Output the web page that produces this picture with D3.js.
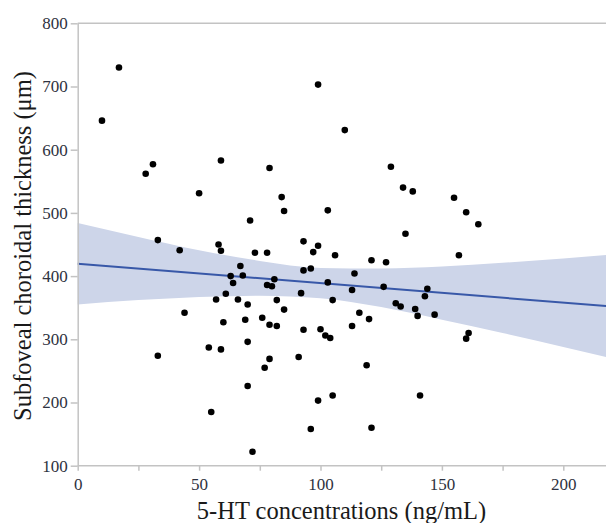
<!DOCTYPE html>
<html>
<head>
<meta charset="utf-8">
<script src="https://cdn.jsdelivr.net/npm/d3@7"></script>
<style>
body { margin: 0; background: #fff; }
text { font-family: "Palatino Linotype", "Book Antiqua", Palatino, "Liberation Serif", serif; }
</style>
</head>
<body>
<svg id="chart" width="606" height="523"></svg>
<script>
// scatter: 5-HT (ng/mL) vs subfoveal choroidal thickness (um)
var serotonin = [10, 17, 28, 31, 50, 59, 71, 99, 110, 79, 129, 134, 138, 84, 85, 103, 155, 160, 165, 135,
	157, 144, 143, 133, 139, 140, 147, 33, 42, 58, 59, 67, 63, 68, 64, 61, 57, 66, 70, 44,
	60, 69, 70, 54, 59, 33, 93, 99, 97, 73, 78, 106, 121, 127, 93, 96, 114, 81, 78, 80,
	103, 113, 126, 92, 82, 105, 131, 85, 76, 79, 82, 116, 120, 113, 93, 100, 102, 104, 91, 79,
	77, 119, 70, 99, 105, 55, 96, 121, 72, 141, 161, 160]
var thickness = [646, 730, 562, 577, 531, 583, 488, 703, 631, 571, 573, 540, 534, 525, 503, 504, 524, 501, 482, 467,
	433, 380, 368, 352, 348, 337, 339, 457, 441, 450, 440, 416, 400, 401, 389, 372, 363, 363, 355, 342,
	327, 331, 296, 287, 284, 274, 455, 448, 438, 437, 437, 433, 425, 422, 409, 412, 404, 395, 386, 384,
	390, 378, 383, 373, 362, 362, 357, 347, 334, 323, 321, 342, 332, 321, 315, 316, 306, 302, 272, 269,
	255, 259, 226, 203, 211, 185, 158, 160, 122, 211, 310, 301]

// fitted line and its confidence band
var fitX = [0, 220]
var fitY = [419.6, 351.9]
var bandX = [0, 25, 50, 75, 100, 125, 150, 175, 200, 220]
var bandUpper = [484, 462, 441, 424, 413, 412, 415, 421, 428, 434]
var bandLower = [355, 362, 367, 369, 365, 351, 331, 310, 288, 270]

var xTicks = [0, 25, 50, 75, 100, 125, 150, 175, 200]
var xLabels = [0, 50, 100, 150, 200]
var yTicks = [100, 200, 300, 400, 500, 600, 700, 800]

var svg = d3.select("#chart")
var axisColor = "#c3c3c3"

var x = d3.scaleLinear().domain([0, 220]).range([77.7, 77.7 + 220 * 2.428])
var y = d3.scaleLinear().domain([100, 800]).range([465.7, 23.3])

// band
var band = bandX.map(function(d, i) { return {x: d, hi: bandUpper[i], lo: bandLower[i]} })
svg.append("path")
	.datum(band)
	.attr("fill", "#cdd5e9")
	.attr("d", d3.area()
		.curve(d3.curveMonotoneX)
		.x(function(d) { return x(d.x) })
		.y0(function(d) { return y(d.lo) })
		.y1(function(d) { return y(d.hi) }))

// regression line
svg.append("path")
	.datum(fitX.map(function(d, i) { return [d, fitY[i]] }))
	.attr("fill", "none")
	.attr("stroke", "#3858a8")
	.attr("stroke-width", 2)
	.attr("d", d3.line()
		.x(function(d) { return x(d[0]) })
		.y(function(d) { return y(d[1]) }))

// top frame line
svg.append("line")
	.attr("x1", x(0)).attr("x2", 606)
	.attr("y1", y(800)).attr("y2", y(800))
	.attr("stroke", axisColor)
	.attr("stroke-width", 1.5)

// x axis
var gx = svg.append("g")
	.attr("transform", "translate(0," + y(100) + ")")
	.call(d3.axisBottom(x)
		.tickValues(xTicks)
		.tickSize(5)
		.tickSizeOuter(0)
		.tickPadding(7)
		.tickFormat(function(d) { return xLabels.indexOf(d) >= 0 ? d : "" }))
gx.select(".domain").attr("d", "M" + x(0) + ",0H606")

// y axis
var gy = svg.append("g")
	.attr("transform", "translate(" + x(0) + ",0)")
	.call(d3.axisLeft(y)
		.tickValues(yTicks)
		.tickSize(7)
		.tickSizeOuter(0)
		.tickPadding(3))

svg.selectAll(".domain, .tick line")
	.attr("stroke", axisColor)
	.attr("stroke-width", 1.5)
svg.selectAll(".tick text")
	.attr("fill", "#2e3240")
	.style("font-size", "17px")
	.style("font-family", "\"Palatino Linotype\", \"Book Antiqua\", Palatino, \"Liberation Serif\", serif")

// points
svg.append("g")
	.selectAll("circle")
	.data(serotonin)
	.enter()
	.append("circle")
	.attr("cx", function(d) { return x(d) })
	.attr("cy", function(d, i) { return y(thickness[i]) })
	.attr("r", 3.3)
	.attr("fill", "#000")

// axis titles
svg.append("text")
	.attr("x", 341.5)
	.attr("y", 518.5)
	.attr("text-anchor", "middle")
	.attr("fill", "#1a1a1a")
	.style("font-size", "24.5px")
	.text("5-HT concentrations (ng/mL)")

svg.append("text")
	.attr("transform", "translate(31,246) rotate(-90)")
	.attr("text-anchor", "middle")
	.attr("fill", "#1a1a1a")
	.style("font-size", "24.5px")
	.text("Subfoveal choroidal thickness (μm)")
</script>
</body>
</html>
